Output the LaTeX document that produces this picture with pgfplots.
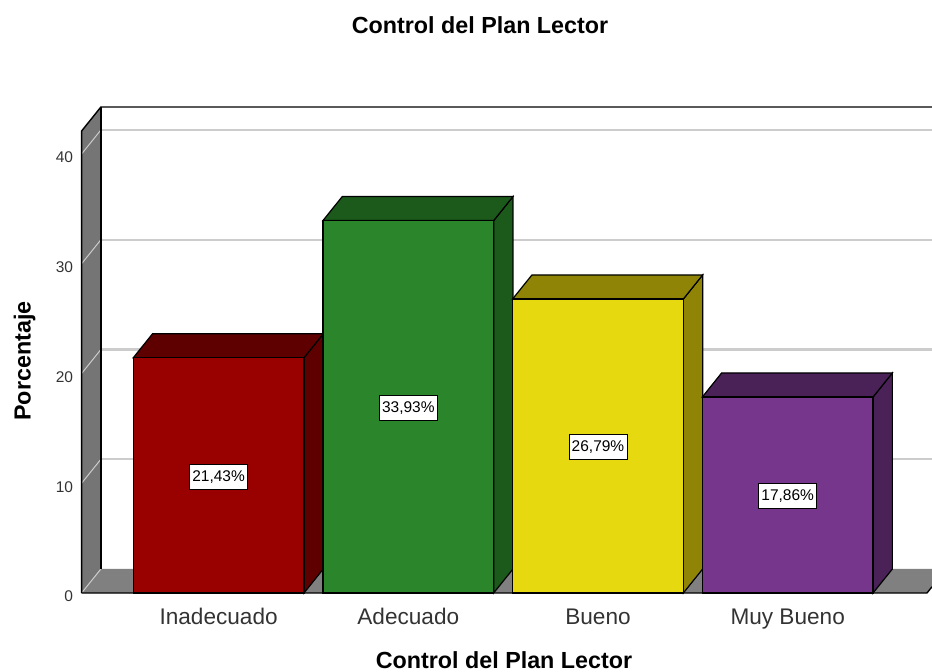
\documentclass[border=0pt]{standalone}
\usepackage{fontspec}
\setmainfont{Liberation Sans}
\usepackage{pgfplots}
\pgfplotsset{compat=1.18}
\definecolor{wallc}{HTML}{757575}
\definecolor{floorc}{HTML}{808080}
\definecolor{gridc}{HTML}{CCCCCC}
\definecolor{txtc}{HTML}{333333}
\definecolor{r1}{HTML}{990000}\definecolor{r2}{HTML}{5F0000}
\definecolor{g1}{HTML}{2B862B}\definecolor{g2}{HTML}{1C5A1C}
\definecolor{y1}{HTML}{E6D90F}\definecolor{y2}{HTML}{8F8406}
\definecolor{p1}{HTML}{76368C}\definecolor{p2}{HTML}{4A2258}
\begin{document}
\begin{tikzpicture}[x=1pt,y=1pt]
\path[use as bounding box] (0,0) rectangle (932,672);
\begin{axis}[
  at={(81.6pt,79pt)},anchor=south west,
  scale only axis,width=850.4pt,height=486pt,
  xmin=-0.7222,xmax=3.7607,ymin=0,ymax=44.28,
  clip=false,
  axis line style={draw=none},
  major tick length=0pt,
  tick style={draw=none},
  xtick={0,1,2,3},
  xticklabels={Inadecuado,Adecuado,Bueno,Muy Bueno},
  ytick={0,10,20,30,40},
  /pgf/number format/assume math mode=true,
  xticklabel style={font=\fontsize{22.6}{24}\selectfont,text=txtc,yshift=-12pt},
  yticklabel style={font=\fontsize{15.5}{17}\selectfont,text=txtc,yshift=-3.5pt,xshift=-5pt},
  title={Control del Plan Lector},
  title style={at={(axis description cs:0.4685,1.1555)},anchor=center,font=\fontsize{23.3}{25}\selectfont\bfseries},
  xlabel={Control del Plan Lector},
  xlabel style={at={(axis description cs:0.4967,-0.139)},anchor=center,font=\fontsize{23.3}{25}\selectfont\bfseries},
  ylabel={Porcentaje},
  ylabel style={at={(axis description cs:-0.0670,0.4774)},anchor=center,font=\fontsize{23.3}{25}\selectfont\bfseries},
  every axis plot/.append style={line join=miter},
]
% floor and left wall
\addplot[fill=floorc,draw=none] coordinates {(-0.7222,0) (3.7343,0) (3.7607,0.57) (3.7607,2.187) (-0.6205,2.187)} --cycle;
\addplot[fill=wallc,draw=none] coordinates {(-0.7222,0) (-0.7222,42.09) (-0.6205,44.28) (-0.6205,2.187)} --cycle;
% gridlines
\addplot[gridc,line width=2.2pt] coordinates {(-0.6205,42.187) (3.7607,42.187)};
\addplot[gridc,line width=2.2pt] coordinates {(-0.6205,32.187) (3.7607,32.187)};
\addplot[gridc,line width=2.2pt] coordinates {(-0.6205,22.187) (3.7607,22.187)};
\addplot[gridc,line width=2.2pt] coordinates {(-0.6205,12.187) (3.7607,12.187)};
\addplot[gridc,line width=1pt] coordinates {(-0.7222,40) (-0.6205,42.187)};
\addplot[gridc,line width=1pt] coordinates {(-0.7222,30) (-0.6205,32.187)};
\addplot[gridc,line width=1pt] coordinates {(-0.7222,20) (-0.6205,22.187)};
\addplot[gridc,line width=1pt] coordinates {(-0.7222,10) (-0.6205,12.187)};
\addplot[gridc,line width=1pt] coordinates {(-0.7222,0) (-0.6205,2.187)};
% outlines of the walls
\addplot[black,line width=1.4pt] coordinates {(-0.7222,0) (-0.7222,42.09) (-0.6205,44.28) (3.7607,44.28)};
\addplot[black,line width=1.4pt] coordinates {(-0.6205,44.28) (-0.6205,2.187)};
\addplot[black,line width=1.4pt] coordinates {(-0.7222,0) (3.7343,0) (3.7607,0.57)};
% bar 1
\addplot[fill=r2,draw=black,line width=1.2pt] coordinates {(0.45,0) (0.5517,2.187) (0.5517,23.617) (0.45,21.43)} --cycle;
\addplot[fill=r2,draw=black,line width=1.2pt] coordinates {(-0.45,21.43) (-0.3483,23.617) (0.5517,23.617) (0.45,21.43)} --cycle;
\addplot[ybar,bar width=0.9,bar shift=0pt,fill=r1,draw=black,line width=1.2pt] coordinates {(0,21.43)};
% bar 2
\addplot[fill=g2,draw=black,line width=1.2pt] coordinates {(1.45,0) (1.5517,2.187) (1.5517,36.117) (1.45,33.93)} --cycle;
\addplot[fill=g2,draw=black,line width=1.2pt] coordinates {(0.55,33.93) (0.6517,36.117) (1.5517,36.117) (1.45,33.93)} --cycle;
\addplot[ybar,bar width=0.9,bar shift=0pt,fill=g1,draw=black,line width=1.2pt] coordinates {(1,33.93)};
% bar 3
\addplot[fill=y2,draw=black,line width=1.2pt] coordinates {(2.45,0) (2.5517,2.187) (2.5517,28.977) (2.45,26.79)} --cycle;
\addplot[fill=y2,draw=black,line width=1.2pt] coordinates {(1.55,26.79) (1.6517,28.977) (2.5517,28.977) (2.45,26.79)} --cycle;
\addplot[ybar,bar width=0.9,bar shift=0pt,fill=y1,draw=black,line width=1.2pt] coordinates {(2,26.79)};
% bar 4
\addplot[fill=p2,draw=black,line width=1.2pt] coordinates {(3.45,0) (3.5517,2.187) (3.5517,20.047) (3.45,17.86)} --cycle;
\addplot[fill=p2,draw=black,line width=1.2pt] coordinates {(2.55,17.86) (2.6517,20.047) (3.5517,20.047) (3.45,17.86)} --cycle;
\addplot[ybar,bar width=0.9,bar shift=0pt,fill=p1,draw=black,line width=1.2pt] coordinates {(3,17.86)};
% value labels
\addplot[draw=none,
  point meta=explicit symbolic,
  nodes near coords={\pgfplotspointmeta\%},
  nodes near coords style={anchor=center,yshift=-1.5pt,font=\fontsize{15.5}{17}\selectfont,fill=white,draw=black,line width=1pt,text=black,
    minimum width=58pt,minimum height=25pt,inner sep=0pt},
] table[x=x,y=y,meta=lab] {
x y lab
0 10.715 21,43
1 16.965 33,93
2 13.395 26,79
3 8.93 17,86
};
\end{axis}
\end{tikzpicture}
\end{document}
